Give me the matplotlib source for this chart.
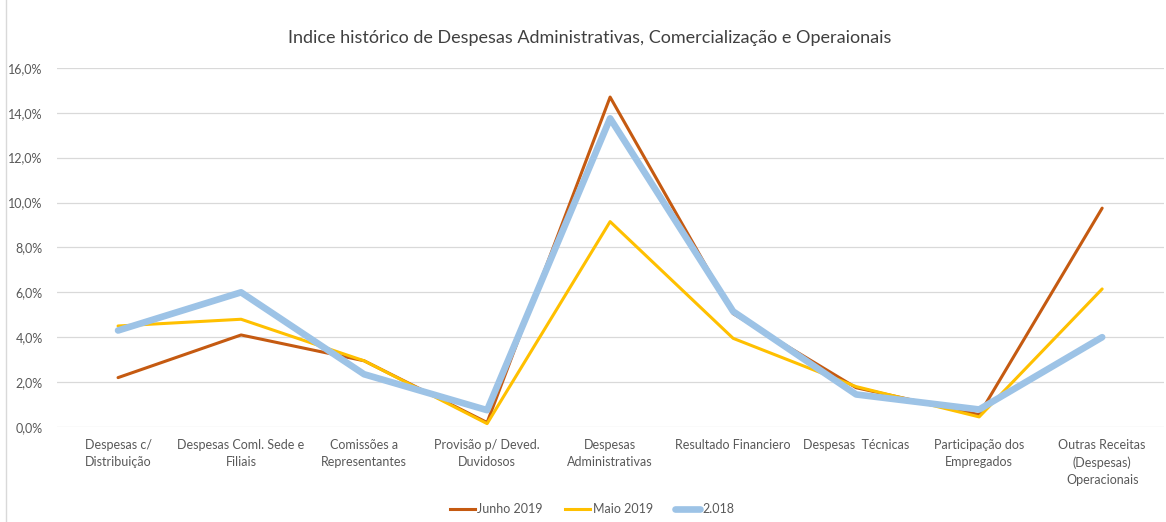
import matplotlib.pyplot as plt
from matplotlib.ticker import FuncFormatter
from matplotlib.lines import Line2D

plt.rcParams['font.family'] = ['Lato', 'DejaVu Sans']

categorias = [
    "Despesas c/\nDistribuição",
    "Despesas Coml. Sede e\nFiliais",
    "Comissões a\nRepresentantes",
    "Provisão p/ Deved.\nDuvidosos",
    "Despesas\nAdministrativas",
    "Resultado Financiero",
    "Despesas  Técnicas",
    "Participação dos\nEmpregados",
    "Outras Receitas\n(Despesas)\nOperacionais",
]
junho_2019 = [2.2, 4.1, 2.95, 0.2, 14.7, 5.05, 1.75, 0.55, 9.75]
maio_2019 = [4.5, 4.8, 2.95, 0.15, 9.15, 3.95, 1.8, 0.45, 6.15]
ano_2018 = [4.3, 6.0, 2.35, 0.75, 13.75, 5.15, 1.45, 0.78, 4.0]

fig = plt.figure(figsize=(11.66, 5.22), dpi=100)
ax = fig.add_axes([0.0485, 0.182, 0.9495, 0.688])

x = range(len(categorias))
ax.plot(x, [v / 100 for v in junho_2019], color='#C55A11', lw=2.2, label='Junho 2019', solid_capstyle='round')
ax.plot(x, [v / 100 for v in maio_2019], color='#FFC000', lw=2.2, label='Maio 2019', solid_capstyle='round')
ax.plot(x, [v / 100 for v in ano_2018], color='#9DC3E6', lw=4.8, label='2.018', solid_capstyle='round')

ax.set_xlim(-0.5, len(categorias) - 0.5)
ax.set_ylim(0, 0.16)
ax.set_yticks([i / 100 for i in range(0, 17, 2)])
ax.yaxis.set_major_formatter(FuncFormatter(lambda v, p: f"{v*100:.1f}%".replace('.', ',')))
ax.set_xticks(list(x))
ax.set_xticklabels(categorias, fontsize=9, color='#595959', va='top', linespacing=1.5)
ax.tick_params(axis='y', labelsize=9, labelcolor='#595959', length=0, pad=10)
ax.tick_params(axis='x', length=0, pad=9)
ax.grid(axis='y', color='#D9D9D9', lw=0.9)
ax.set_axisbelow(True)
for s in ax.spines.values():
    s.set_visible(False)

fig.text(0.506, 0.927, "Indice histórico de Despesas Administrativas, Comercialização e Operaionais",
         ha='center', va='center', fontsize=13, color='#404040')

handles = [Line2D([], [], color='#C55A11', lw=2.2),
           Line2D([], [], color='#FFC000', lw=2.2),
           Line2D([], [], color='#9DC3E6', lw=4.8, solid_capstyle='round')]
fig.legend(handles, ['Junho 2019', 'Maio 2019', '2.018'], loc='center', bbox_to_anchor=(0.508, 0.025),
           ncol=3, frameon=False, fontsize=9, labelcolor='#595959', handlelength=2.0,
           handletextpad=0.2, columnspacing=1.8)

fig.add_artist(Line2D([0.005, 0.005], [0.0, 1.0], color='#D9D9D9', lw=1, transform=fig.transFigure))

fig.savefig('out.png', dpi=100)
